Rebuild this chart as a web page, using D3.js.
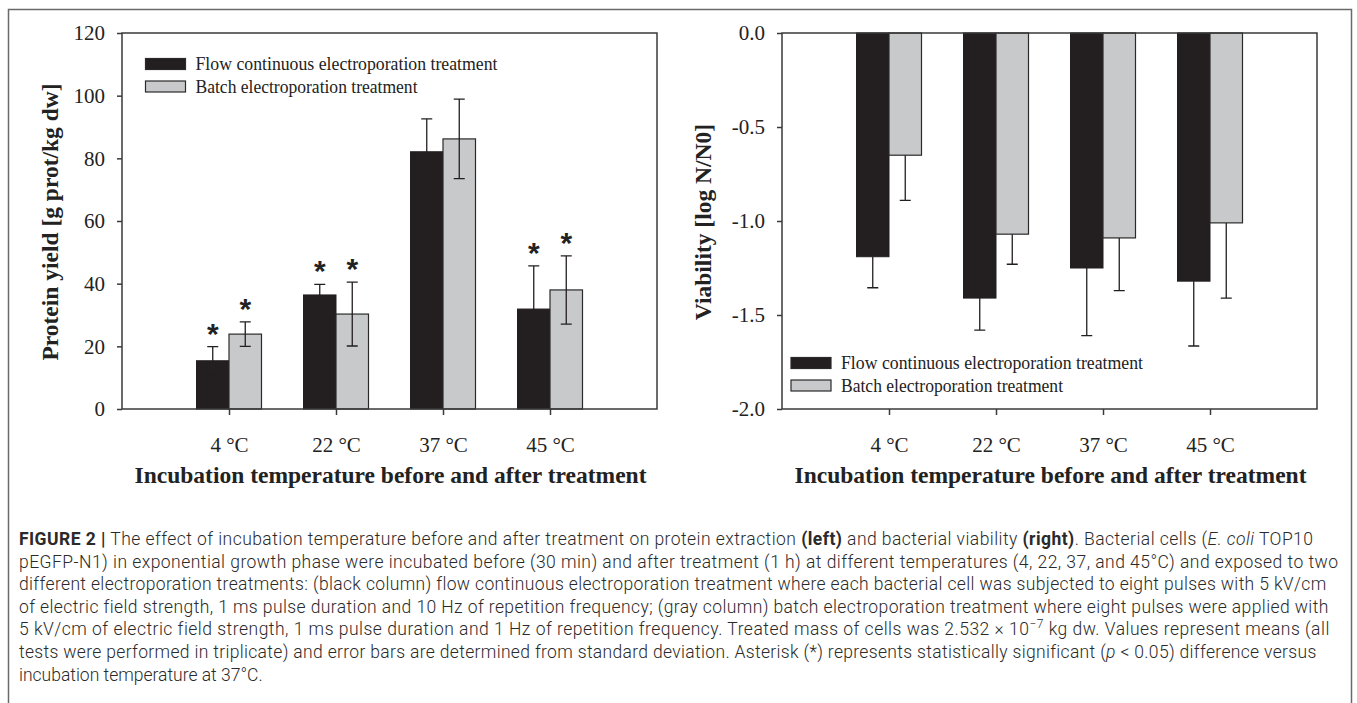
<!DOCTYPE html>
<html>
<head>
<meta charset="utf-8">
<script src="https://cdn.jsdelivr.net/npm/d3@7"></script>
<style>
  body { margin: 0; background: #fff; }
  svg { display: block; }
</style>
</head>
<body>
<script>
// chart values
var categories = ["4 °C", "22 °C", "37 °C", "45 °C"];
var seriesNames = ["Flow continuous electroporation treatment", "Batch electroporation treatment"];

// protein yield [g prot/kg dw]
var yieldFlow = [15.4, 36.4, 82.1, 31.9];
var yieldFlowSD = [4.5, 3.4, 10.5, 13.8];
var yieldBatch = [23.9, 30.3, 86.2, 38.0];
var yieldBatchSD = [3.9, 10.2, 12.7, 10.9];
var sigFlow = [true, true, false, true];
var sigBatch = [true, true, false, true];
var yieldTicks = [0, 20, 40, 60, 80, 100, 120];

// viability [log N/N0]
var viabFlow = [-1.19, -1.41, -1.25, -1.32];
var viabFlowSD = [0.165, 0.17, 0.36, 0.345];
var viabBatch = [-0.65, -1.07, -1.09, -1.01];
var viabBatchSD = [0.24, 0.16, 0.28, 0.40];
var viabTicks = [0, -0.5, -1.0, -1.5, -2.0];

var xTitle = "Incubation temperature before and after treatment";

var W = 1357, H = 703;
var serif = "'Liberation Serif', 'Times New Roman', serif";
var ink = "#222";

var svg = d3.select("body").append("svg")
    .attr("width", W)
    .attr("height", H);

// outer figure frame (top + sides)
svg.append("path")
    .attr("d", "M8.5," + H + "V9.5H1351.5V" + H)
    .attr("fill", "none")
    .attr("stroke", "#6a6a6a")
    .attr("stroke-width", 1.5);

var plotTop = 33, plotBottom = 409, plotW = 535;
var barW = 32.5;

function drawPanel(opt) {
  var x0 = opt.left, x1 = opt.left + plotW;
  var g = svg.append("g");

  var x = d3.scaleLinear().domain([0, 5]).range([x0, x1]);
  var y = d3.scaleLinear().domain(opt.domain).range([plotBottom, plotTop]);

  var rows = categories.map(function(c, i) {
    return {cat: c, pos: i + 1, a: opt.a[i], aSD: opt.aSD[i], b: opt.b[i], bSD: opt.bSD[i],
            sa: opt.sigA ? opt.sigA[i] : false, sb: opt.sigB ? opt.sigB[i] : false};
  });

  // bars
  var base = y(0);
  g.selectAll(".barA").data(rows).enter().append("rect")
      .attr("x", function(d) { return x(d.pos) - barW; })
      .attr("y", function(d) { return Math.min(y(d.a), base); })
      .attr("width", barW)
      .attr("height", function(d) { return Math.abs(y(d.a) - base); })
      .attr("fill", "#231f20")
      .attr("stroke", "#231f20")
      .attr("stroke-width", 1);
  g.selectAll(".barB").data(rows).enter().append("rect")
      .attr("x", function(d) { return x(d.pos); })
      .attr("y", function(d) { return Math.min(y(d.b), base); })
      .attr("width", barW)
      .attr("height", function(d) { return Math.abs(y(d.b) - base); })
      .attr("fill", "#c8c9cb")
      .attr("stroke", "#2a2a2a")
      .attr("stroke-width", 1.2);

  // error bars
  function errPath(cx, v, sd) {
    var lo, hi;
    if (opt.oneSided) { lo = v; hi = v - sd; } else { lo = v - sd; hi = v + sd; }
    var p = "M" + cx + "," + y(lo) + "V" + y(hi);
    p += "M" + (cx - 5.5) + "," + y(hi) + "H" + (cx + 5.5);
    if (!opt.oneSided) p += "M" + (cx - 5.5) + "," + y(lo) + "H" + (cx + 5.5);
    return p;
  }
  rows.forEach(function(d) {
    g.append("path").attr("d", errPath(x(d.pos) - barW / 2, d.a, d.aSD))
        .attr("fill", "none").attr("stroke", "#231f20").attr("stroke-width", 1.3);
    g.append("path").attr("d", errPath(x(d.pos) + barW / 2, d.b, d.bSD))
        .attr("fill", "none").attr("stroke", "#231f20").attr("stroke-width", 1.3);
  });

  // significance asterisks
  rows.forEach(function(d) {
    [[d.sa, -barW / 2, d.a + d.aSD], [d.sb, barW / 2, d.b + d.bSD]].forEach(function(s) {
      if (!s[0]) return;
      g.append("text")
          .attr("x", x(d.pos) + s[1])
          .attr("y", y(s[2]) - 20 + 17)
          .attr("text-anchor", "middle")
          .style("font-family", "'Liberation Sans', Arial, sans-serif")
          .style("font-weight", "bold")
          .style("font-size", "30px")
          .attr("fill", ink)
          .text("*");
    });
  });

  // frame
  g.append("rect")
      .attr("x", x0).attr("y", plotTop)
      .attr("width", plotW).attr("height", plotBottom - plotTop)
      .attr("fill", "none")
      .attr("stroke", "#3a3a3a")
      .attr("stroke-width", 1.5);

  // axes
  var yAxis = g.append("g")
      .attr("transform", "translate(" + x0 + ",0)")
      .call(d3.axisLeft(y).tickValues(opt.ticks).tickSize(5).tickPadding(12).tickFormat(opt.fmt));
  var xAxis = g.append("g")
      .attr("transform", "translate(0," + plotBottom + ")")
      .call(d3.axisBottom(x).tickValues([1, 2, 3, 4]).tickSize(6).tickPadding(22)
            .tickFormat(function(d) { return categories[d - 1]; }));
  [yAxis, xAxis].forEach(function(a) {
    a.select(".domain").remove();
    a.selectAll("line").attr("stroke", "#3a3a3a").attr("stroke-width", 1.5);
    a.selectAll("text")
        .style("font-family", serif)
        .style("font-size", "21px")
        .attr("fill", ink);
  });

  // titles
  g.append("text")
      .attr("transform", "translate(" + (x0 - opt.yTitleGap) + "," + ((plotTop + plotBottom) / 2 + 1) + ") rotate(-90)")
      .attr("text-anchor", "middle")
      .style("font-family", serif)
      .style("font-weight", "bold")
      .style("font-size", "23.5px")
      .attr("fill", ink)
      .text(opt.yTitle);
  g.append("text")
      .attr("x", (x0 + x1) / 2 + 1)
      .attr("y", 483)
      .attr("text-anchor", "middle")
      .style("font-family", serif)
      .style("font-weight", "bold")
      .style("font-size", "23.5px")
      .attr("fill", ink)
      .text(xTitle);

  // legend
  var lg = g.append("g").attr("transform", "translate(" + opt.legend[0] + "," + opt.legend[1] + ")");
  var fills = ["#231f20", "#c8c9cb"];
  seriesNames.forEach(function(n, i) {
    lg.append("rect")
        .attr("x", 0).attr("y", i * 22.5)
        .attr("width", 40).attr("height", 11)
        .attr("fill", fills[i])
        .attr("stroke", "#2a2a2a").attr("stroke-width", 1.2);
    lg.append("text")
        .attr("x", 50).attr("y", i * 22.5 + 11.5)
        .style("font-family", serif)
        .style("font-size", "18.5px")
        .attr("fill", ink)
        .attr("textLength", i === 0 ? 302 : 222)
        .attr("lengthAdjust", "spacingAndGlyphs")
        .text(n);
  });
}

drawPanel({
  left: 122, domain: [0, 120], ticks: yieldTicks,
  fmt: function(d) { return String(d); },
  a: yieldFlow, aSD: yieldFlowSD, b: yieldBatch, bSD: yieldBatchSD,
  sigA: sigFlow, sigB: sigBatch, oneSided: false,
  yTitle: "Protein yield [g prot/kg dw]", yTitleGap: 64,
  legend: [145.5, 58.5]
});

drawPanel({
  left: 782, domain: [-2, 0], ticks: viabTicks,
  fmt: function(d) { return d.toFixed(1).replace("−", "-"); },
  a: viabFlow, aSD: viabFlowSD, b: viabBatch, bSD: viabBatchSD,
  oneSided: true,
  yTitle: "Viability [log N/N0]", yTitleGap: 71,
  legend: [791, 357.5]
});

// caption
var captionLines = [
  [["FIGURE 2 |", "b"], [" The effect of incubation temperature before and after treatment on protein extraction "], ["(left)", "b"], [" and bacterial viability "], ["(right)", "b"], [". Bacterial cells ("], ["E. coli", "i"], [" TOP10"]],
  [["pEGFP-N1) in exponential growth phase were incubated before (30 min) and after treatment (1 h) at different temperatures (4, 22, 37, and 45°C) and exposed to two"]],
  [["different electroporation treatments: (black column) flow continuous electroporation treatment where each bacterial cell was subjected to eight pulses with 5 kV/cm"]],
  [["of electric field strength, 1 ms pulse duration and 10 Hz of repetition frequency; (gray column) batch electroporation treatment where eight pulses were applied with"]],
  [["5 kV/cm of electric field strength, 1 ms pulse duration and 1 Hz of repetition frequency. Treated mass of cells was 2.532 × 10"], ["−7", "sup"], [" kg dw. Values represent means (all"]],
  [["tests were performed in triplicate) and error bars are determined from standard deviation. Asterisk (*) represents statistically significant ("], ["p", "i"], [" < 0.05) difference versus"]],
  [["incubation temperature at 37°C."]]
];
var captionEnds = [1313, 1338, 1326, 1328, 1329, 1316, null];

var capX = 19;
captionLines.forEach(function(line, i) {
  var t = svg.append("text")
      .attr("x", capX)
      .attr("y", 545 + i * 22.6)
      .style("font-family", "Roboto, 'Liberation Sans', sans-serif")
      .style("font-weight", "300")
      .style("font-size", "17.5px")
      .attr("fill", "#2a2a2a");
  var n = 0;
  line.forEach(function(seg) {
    var s = t.append("tspan").text(seg[0]);
    n += seg[0].length;
    if (seg[1] === "b") s.style("font-weight", "bold");
    if (seg[1] === "i") s.style("font-style", "italic");
    if (seg[1] === "sup") s.attr("baseline-shift", "super").style("font-size", "12px");
  });
  if (captionEnds[i]) {
    var w = t.node().getComputedTextLength();
    var ls = (captionEnds[i] - capX - w) / (n - 1);
    t.style("letter-spacing", ls + "px");
  }
});
</script>
</body>
</html>
